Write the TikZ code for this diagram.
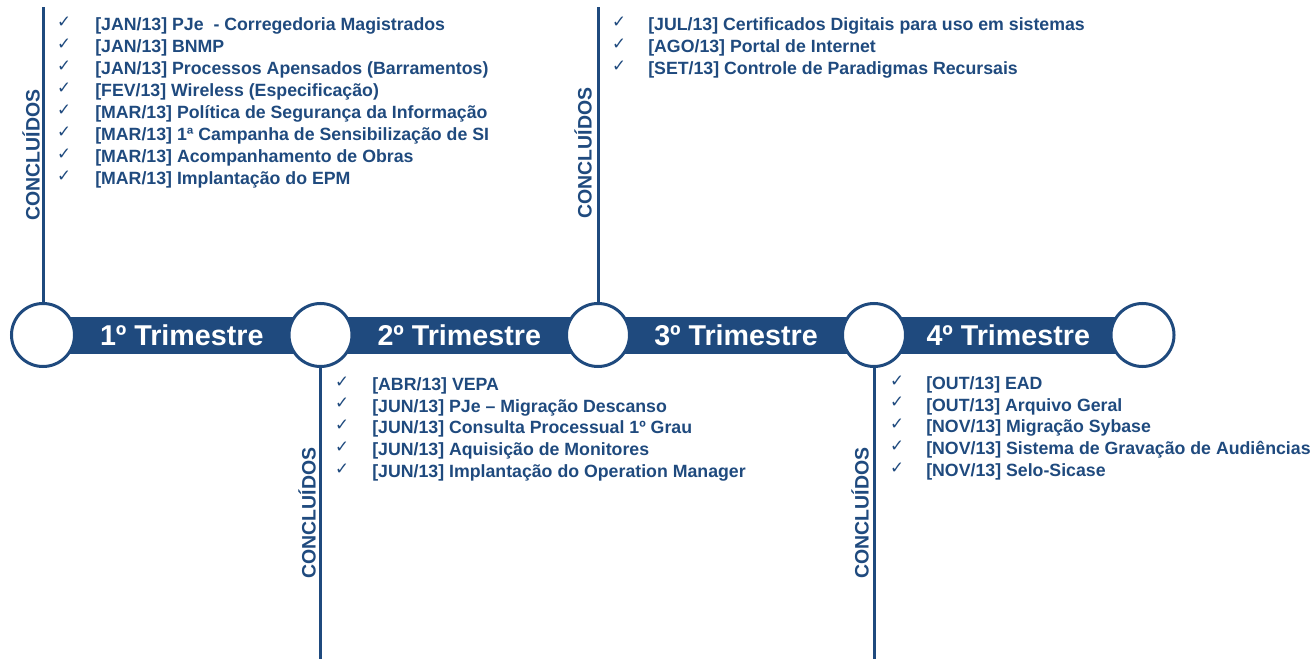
\documentclass[tikz,border=0pt]{standalone}
\usepackage{fontspec}
\setmainfont{Liberation Sans}
\newfontfamily\chkfont{DejaVu Sans}
\usetikzlibrary{calc}
\definecolor{tblue}{RGB}{31,74,126}
\tikzset{
  ring/.style={circle,draw=tblue,line width=2.25pt,fill=white,minimum size=47.25pt,inner sep=0pt},
  vline/.style={draw=tblue,line width=2.25pt},
  qlabel/.style={text=white,font=\bfseries\fontsize{21.5}{25}\selectfont,inner sep=0pt},
  item/.style={text=tblue,font=\bfseries\fontsize{13.3}{15}\selectfont,inner sep=0pt,anchor=base west},
  chk/.style={text=tblue,font=\chkfont\fontsize{12.5}{14}\selectfont,inner sep=0pt},
  concl/.style={text=tblue,font=\bfseries\fontsize{14.6}{16}\selectfont,inner sep=0pt,rotate=90}
}
\begin{document}
\begin{tikzpicture}[x=0.75pt,y=-0.75pt]
\useasboundingbox (0,0) rectangle (1313,659);
% circle positions
\coordinate (p1) at (43,335);
\coordinate (p2) at (320.5,335);
\coordinate (p3) at (598,335);
\coordinate (p4) at (874,335);
\coordinate (p5) at (1142.5,335);
% bar behind circles
\fill[tblue] ($(p1)+(0,-18.5)$) rectangle ($(p5)+(0,18.5)$);
\node[ring] (c1) at (p1) {};
\node[ring] (c2) at (p2) {};
\node[ring] (c3) at (p3) {};
\node[ring] (c4) at (p4) {};
\node[ring] (c5) at (p5) {};
% quarter labels
\node[qlabel] (t1) at ($(c1)!0.5!(c2)$) {1º Trimestre};
\node[qlabel] (t2) at ($(c2)!0.5!(c3)$) {2º Trimestre};
\node[qlabel] (t3) at ($(c3)!0.5!(c4)$) {3º Trimestre};
\node[qlabel] (t4) at ($(c4)!0.5!(c5)$) {4º Trimestre};
% vertical lines
\coordinate (e1) at (43,7);
\coordinate (e2) at (320.5,659);
\coordinate (e3) at (598,7);
\coordinate (e4) at (874,659);
\draw[vline] (c1.north) -- (e1);
\draw[vline] (c2.south) -- (e2);
\draw[vline] (c3.north) -- (e3);
\draw[vline] (c4.south) -- (e4);
% CONCLUIDOS labels
\node[concl] (k1) at (31,155) {CONCLUÍDOS};
\node[concl] (k2) at (307,513) {CONCLUÍDOS};
\node[concl] (k3) at (583,153) {CONCLUÍDOS};
\node[concl] (k4) at (860,513) {CONCLUÍDOS};
% group 1
\foreach \i/\t in {0/{[JAN/13] PJe~~- Corregedoria Magistrados},1/{[JAN/13] BNMP},2/{[JAN/13] Processos Apensados (Barramentos)},3/{[FEV/13] Wireless (Especificação)},4/{[MAR/13] Política de Segurança da Informação},5/{[MAR/13] 1ª Campanha de Sensibilização de SI},6/{[MAR/13] Acompanhamento de Obras},7/{[MAR/13] Implantação do EPM}}{
  \node[item] (a\i) at (95,30.5+22*\i) {\t};
  \node[chk] (ca\i) at (64,22+22*\i) {✓};
}
% group 3
\foreach \i/\t in {0/{[JUL/13] Certificados Digitais para uso em sistemas},1/{[AGO/13] Portal de Internet},2/{[SET/13] Controle de Paradigmas Recursais}}{
  \node[item] (b\i) at (648,30.5+22*\i) {\t};
  \node[chk] (cb\i) at (619,22+22*\i) {✓};
}
% group 2
\foreach \i/\t in {0/{[ABR/13] VEPA},1/{[JUN/13] PJe – Migração Descanso},2/{[JUN/13] Consulta Processual 1º Grau},3/{[JUN/13] Aquisição de Monitores},4/{[JUN/13] Implantação do Operation Manager}}{
  \node[item] (d\i) at (372,390.5+21.7*\i) {\t};
  \node[chk] (cd\i) at (342,382+21.7*\i) {✓};
}
% group 4
\foreach \i/\t in {0/{[OUT/13] EAD},1/{[OUT/13] Arquivo Geral},2/{[NOV/13] Migração Sybase},3/{[NOV/13] Sistema de Gravação de Audiências},4/{[NOV/13] Selo-Sicase}}{
  \node[item] (f\i) at (926,389.5+21.7*\i) {\t};
  \node[chk] (cf\i) at (897,381+21.7*\i) {✓};
}
\end{tikzpicture}
\end{document}
